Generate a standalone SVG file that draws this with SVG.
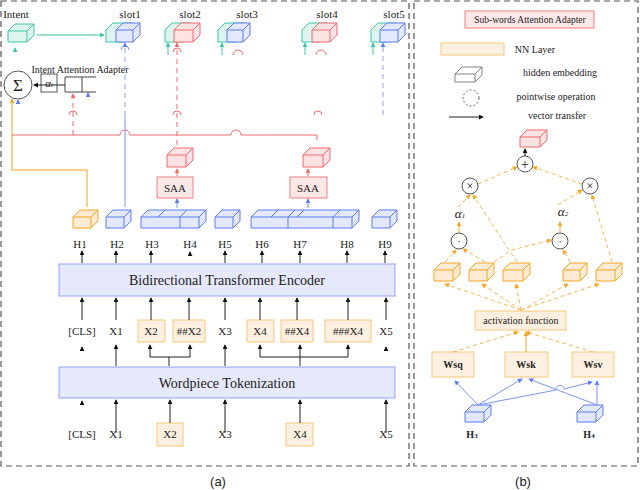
<svg xmlns="http://www.w3.org/2000/svg" width="640" height="490" viewBox="0 0 640 490">
<defs>
<marker id="ak" viewBox="0 0 6 6" refX="5" refY="3" markerWidth="5" markerHeight="5" orient="auto"><path d="M0,0L6,3L0,6z" fill="#111"/></marker>
<marker id="ao" viewBox="0 0 6 6" refX="5" refY="3" markerWidth="5" markerHeight="5" orient="auto"><path d="M0,0L6,3L0,6z" fill="#f5a623"/></marker>
<marker id="ab" viewBox="0 0 6 6" refX="5" refY="3" markerWidth="5" markerHeight="5" orient="auto"><path d="M0,0L6,3L0,6z" fill="#5b7cf0"/></marker>
<marker id="ap" viewBox="0 0 6 6" refX="5" refY="3" markerWidth="5" markerHeight="5" orient="auto"><path d="M0,0L6,3L0,6z" fill="#f06a6a"/></marker>
<marker id="at" viewBox="0 0 6 6" refX="5" refY="3" markerWidth="5" markerHeight="5" orient="auto"><path d="M0,0L6,3L0,6z" fill="#3cc7a5"/></marker>
</defs>
<style>
text{font-family:"Liberation Serif",serif;font-size:11px;fill:#222;text-anchor:middle}
.sans{font-family:"Liberation Sans",sans-serif;font-size:13px}
.frame{fill:none;stroke:#555;stroke-width:1.2;stroke-dasharray:6,4}
.cb{fill:#e3e8fd;stroke:#5b7cf0;stroke-width:1}
.co{fill:#fdebd3;stroke:#f5a623;stroke-width:1}
.cp{fill:#fde3e3;stroke:#f06a6a;stroke-width:1}
.ct{fill:#ddf5ee;stroke:#3cc7a5;stroke-width:1}
.bar{fill:#e6e9fb;stroke:#8fa3f5;stroke-width:1}
.nn{fill:#fdf0e0;stroke:#f7c77a;stroke-width:1}
.saa{fill:#fde8e8;stroke:#f08080;stroke-width:1}
.k{stroke:#222;stroke-width:1;fill:none;marker-end:url(#ak)}
.kl{stroke:#222;stroke-width:1;fill:none}
.o{stroke:#f5a623;stroke-width:1;fill:none;marker-end:url(#ao)}
.od{stroke:#f7b64d;stroke-width:1;fill:none;stroke-dasharray:4,3;marker-end:url(#ao)}
.b{stroke:#7d95f3;stroke-width:1;fill:none}
.ba{stroke:#7d95f3;stroke-width:1;fill:none;marker-end:url(#ab)}
.bd{stroke:#8fa3f5;stroke-width:1;fill:none;stroke-dasharray:5,4;marker-end:url(#ab)}
.p{stroke:#f06a6a;stroke-width:1;fill:none}
.pa{stroke:#f06a6a;stroke-width:1;fill:none;marker-end:url(#ap)}
.pd{stroke:#f06a6a;stroke-width:1;fill:none;stroke-dasharray:5,4;marker-end:url(#ap)}
.t{stroke:#3cc7a5;stroke-width:1;fill:none;marker-end:url(#at)}
.circ{fill:#fff;stroke:#555;stroke-width:1}
.ln{fill:none}
</style>
<rect class="frame" x="1" y="1" width="408" height="465"/>
<rect class="frame" x="414" y="1" width="224" height="465"/>
<text class="sans" x="218" y="486">(a)</text>
<text class="sans" x="523" y="486">(b)</text>

<g id="top-embeddings">
<text x="16" y="18">Intent</text>
<path class="ct" d="M8,31 l7,-7 h19 v11 l-7,7 h-19 z"/><path class="ct ln" d="M8,31 h19 l7,-7 M27,31 v11"/>
<text x="130" y="18">slot1</text>
<path class="ct" d="M106,30 l7,-7 h19 v12 l-7,7 h-19 z"/>
<path class="cb" d="M116,30 l7,-7 h17 v12 l-7,7 h-17 z"/><path class="cb ln" d="M116,30 h17 l7,-7 M133,30 v12"/>
<text x="190" y="18">slot2</text>
<path class="ct" d="M165,30 l7,-7 h19 v12 l-7,7 h-19 z"/>
<path class="cp" d="M174,30 l7,-7 h19 v12 l-7,7 h-19 z"/><path class="cp ln" d="M174,30 h19 l7,-7 M193,30 v12"/>
<text x="247" y="18">slot3</text>
<path class="ct" d="M218,30 l7,-7 h19 v12 l-7,7 h-19 z"/>
<path class="cb" d="M227,30 l7,-7 h16 v12 l-7,7 h-16 z"/><path class="cb ln" d="M227,30 h16 l7,-7 M243,30 v12"/>
<text x="327" y="18">slot4</text>
<path class="ct" d="M302,30 l7,-7 h19 v12 l-7,7 h-19 z"/>
<path class="cp" d="M312,30 l7,-7 h18 v12 l-7,7 h-18 z"/><path class="cp ln" d="M312,30 h18 l7,-7 M330,30 v12"/>
<text x="394" y="18">slot5</text>
<path class="ct" d="M371,30 l7,-7 h19 v12 l-7,7 h-19 z"/>
<path class="cb" d="M380,30 l7,-7 h18 v12 l-7,7 h-18 z"/><path class="cb ln" d="M380,30 h18 l7,-7 M398,30 v12"/>
</g>

<g id="intent-adapter">
<text x="80" y="73" style="font-size:10px">Intent Attention Adapter</text>
<circle class="circ" cx="18" cy="85" r="14"/>
<text x="18" y="91" style="font-size:17px">Σ</text>
<rect x="41" y="74" width="16" height="18" fill="#fff" stroke="#555"/>
<text x="49" y="87" style="font-style:italic">α<tspan style="font-size:7px">i</tspan></text>
<path d="M96,77 h-31 v15 h31 M82,77 v15" fill="#fff" stroke="#444"/>
</g>

<g id="saa1"><rect class="saa" x="157" y="177" width="36" height="21"/><text x="175" y="192">SAA</text></g>
<g id="saa2"><rect class="saa" x="290" y="177" width="37" height="21"/><text x="308" y="192">SAA</text></g>
<g id="saa-out">
<path class="cp" d="M167,155 l7,-7 h19 v12 l-7,7 h-19 z"/><path class="cp ln" d="M167,155 h19 l7,-7 M186,155 v12"/>
<path class="cp" d="M303,155 l7,-7 h20 v12 l-7,7 h-20 z"/><path class="cp ln" d="M303,155 h20 l7,-7 M323,155 v12"/>
</g>

<g id="hidden">
<path class="co" d="M73,217 l7,-7 h18 v11 l-7,7 h-18 z"/><path class="co ln" d="M73,217 h18 l7,-7 M91,217 v11"/>
<path class="cb" d="M106,217 l7,-7 h18 v11 l-7,7 h-18 z"/><path class="cb ln" d="M106,217 h18 l7,-7 M124,217 v11"/>
<path class="cb" d="M141,217 l7,-7 h58 v11 l-7,7 h-58 z"/><path class="cb ln" d="M141,217 h58 l7,-7 M199,217 v11 M158,217 l7,-7 M180,217 l7,-7 M180,217 v11"/>
<path class="cb" d="M215,217 l7,-7 h18 v11 l-7,7 h-18 z"/><path class="cb ln" d="M215,217 h18 l7,-7 M233,217 v11"/>
<path class="cb" d="M251,217 l7,-7 h101 v11 l-7,7 h-101 z"/><path class="cb ln" d="M251,217 h101 l7,-7 M352,217 v11 M271,217 l7,-7 M288,217 l7,-7 M288,217 v11 M297,217 l7,-7 M333,217 l7,-7 M333,217 v11"/>
<path class="cb" d="M372,217 l7,-7 h18 v11 l-7,7 h-18 z"/><path class="cb ln" d="M372,217 h18 l7,-7 M390,217 v11"/>
<text x="80" y="248">H1</text><text x="117" y="248">H2</text><text x="152" y="248">H3</text><text x="190" y="248">H4</text><text x="225" y="248">H5</text><text x="262" y="248">H6</text><text x="300" y="248">H7</text><text x="347" y="248">H8</text><text x="385" y="248">H9</text>
</g>

<g id="encoder"><rect class="bar" x="59" y="264" width="336" height="32"/><text x="227" y="285" style="font-size:14px">Bidirectional Transformer Encoder</text></g>
<g id="tokens-mid">
<text x="82" y="335">[CLS]</text><text x="116" y="335">X1</text>
<rect class="nn" x="138" y="320" width="27" height="22"/><text x="151" y="335">X2</text>
<rect class="nn" x="173" y="320" width="32" height="22"/><text x="189" y="335">##X2</text>
<text x="225" y="335">X3</text>
<rect class="nn" x="247" y="320" width="27" height="22"/><text x="260" y="335">X4</text>
<rect class="nn" x="281" y="320" width="32" height="22"/><text x="297" y="335">##X4</text>
<rect class="nn" x="325" y="320" width="46" height="22"/><text x="348" y="335">###X4</text>
<text x="386" y="335">X5</text>
</g>
<g id="wordpiece"><rect class="bar" x="59" y="367" width="336" height="31"/><text x="227" y="388" style="font-size:14px">Wordpiece Tokenization</text></g>
<g id="tokens-in">
<text x="82" y="438">[CLS]</text><text x="116" y="438">X1</text>
<rect class="nn" x="157" y="423" width="26" height="23"/><text x="170" y="438">X2</text>
<text x="225" y="438">X3</text>
<rect class="nn" x="286" y="423" width="27" height="23"/><text x="300" y="438">X4</text>
<text x="386" y="438">X5</text>
</g>

<g id="legend">
<rect class="saa" x="465" y="11" width="129" height="17"/><text x="530" y="23" style="font-size:9.5px">Sub-words Attention Adapter</text>
<rect class="nn" x="441" y="43" width="63" height="12"/><text x="535" y="53" style="font-size:10px">NN Layer</text>
<path d="M455,74 l7,-7 h20 v8 l-7,7 h-20 z" fill="#ffffff" stroke="#666" stroke-width="0.8"/><path d="M455,74 h20 l7,-7 M475,74 v8" fill="none" stroke="#666" stroke-width="0.8"/>
<text x="560" y="76" style="font-size:10px">hidden embedding</text>
<circle cx="471" cy="98" r="8" fill="none" stroke="#666" stroke-dasharray="2,2"/><text x="556" y="100" style="font-size:10px">pointwise operation</text>
<path class="k" d="M449,117 h34"/><text x="557" y="119" style="font-size:10px">vector transfer</text>
</g>

<g id="saa-detail">
<path class="cp" d="M520,137 l7,-7 h20 v10 l-7,7 h-20 z"/><path class="cp ln" d="M520,137 h20 l7,-7 M540,137 v10"/>
<circle class="circ" cx="525" cy="164" r="8"/><text x="525" y="169" style="font-size:14px">+</text>
<circle class="circ" cx="470" cy="186" r="8"/><text x="470" y="190" style="font-size:12px">×</text>
<circle class="circ" cx="590" cy="186" r="8"/><text x="590" y="190" style="font-size:12px">×</text>
<text x="460" y="218" style="font-size:13px;font-style:italic">α<tspan style="font-size:7px">1</tspan></text>
<text x="563" y="216" style="font-size:13px;font-style:italic">α<tspan style="font-size:7px">2</tspan></text>
<circle class="circ" cx="459" cy="241" r="8"/><text x="459" y="245">·</text>
<circle class="circ" cx="560" cy="241" r="8"/><text x="560" y="245">·</text>
<path class="co" d="M434,270 l7,-7 h19 v11 l-7,7 h-19 z"/><path class="co ln" d="M434,270 h19 l7,-7 M453,270 v11"/>
<path class="co" d="M469,270 l7,-7 h18 v11 l-7,7 h-18 z"/><path class="co ln" d="M469,270 h18 l7,-7 M487,270 v11"/>
<path class="co" d="M503,270 l7,-7 h20 v11 l-7,7 h-20 z"/><path class="co ln" d="M503,270 h20 l7,-7 M523,270 v11"/>
<path class="co" d="M563,270 l7,-7 h17 v11 l-7,7 h-17 z"/><path class="co ln" d="M563,270 h17 l7,-7 M580,270 v11"/>
<path class="co" d="M596,270 l7,-7 h19 v11 l-7,7 h-19 z"/><path class="co ln" d="M596,270 h19 l7,-7 M615,270 v11"/>
<rect class="nn" x="475" y="311" width="91" height="19"/><text x="521" y="324" style="font-size:10px">activation function</text>
<rect class="nn" x="432" y="352" width="42" height="25"/><text x="453" y="368" style="font-size:10px;font-weight:bold">Wsq</text>
<rect class="nn" x="505" y="352" width="43" height="25"/><text x="526" y="368" style="font-size:10px;font-weight:bold">Wsk</text>
<rect class="nn" x="572" y="352" width="42" height="25"/><text x="593" y="368" style="font-size:10px;font-weight:bold">Wsv</text>
<path class="cb" d="M465,412 l7,-7 h19 v10 l-7,7 h-19 z"/><path class="cb ln" d="M465,412 h19 l7,-7 M484,412 v10"/>
<path class="cb" d="M577,412 l7,-7 h19 v10 l-7,7 h-19 z"/><path class="cb ln" d="M577,412 h19 l7,-7 M596,412 v10"/>
<text x="472" y="438" style="font-size:10px;font-weight:bold">H<tspan style="font-size:7px">3</tspan></text>
<text x="589" y="438" style="font-size:10px;font-weight:bold">H<tspan style="font-size:7px">4</tspan></text>
</g>

<g id="connectors">
<path class="t" d="M37,35 H104"/>
<path class="t" d="M15,52 v-4"/>
<path class="t" d="M168,55 V43"/><path class="t" d="M222,55 V43"/><path class="t" d="M305,55 V43"/><path class="t" d="M373,55 V43"/>
<path class="p" d="M233,55 a5,5 0 0 1 10,0 M316,55 a5,5 0 0 1 10,0"/>
<path class="k" d="M65,85 H34"/>
<path class="o" d="M87,207 V170 H12 V99"/>
<path class="ba" d="M18,103 v-3"/>
<path class="p" d="M12,135 H120 a5,5 0 0 1 10,0 H231 a5,5 0 0 1 10,0 H317 V140"/>
<path class="pd" d="M73,135 V94"/>
<path class="p" d="M69,115 a4,4 0 0 1 8,0 M173,115 a4,4 0 0 1 8,0 M314,115 a4,4 0 0 1 8,0"/>
<path class="pd" d="M177,145 V43"/>
<path class="p" d="M173,52 a4,4 0 0 1 8,0"/>
<path class="b" d="M121,50 a4,4 0 0 1 8,0"/>
<path class="b" d="M125,207 V116"/>
<path class="bd" d="M125,116 V43"/>
<path class="ba" d="M88,96 V93"/>
<path class="bd" d="M383,115 V43"/>
<path class="pa" d="M177,176 V169"/><path class="pa" d="M308,176 V169"/>
<path class="ba" d="M177,208 V199"/><path class="ba" d="M308,208 V199"/>
<path class="k" d="M82,263 V251"/><path class="k" d="M116,263 V251"/><path class="k" d="M151,263 V251"/><path class="k" d="M190,255 v-3"/><path class="k" d="M225,263 V251"/><path class="k" d="M262,263 V251"/><path class="k" d="M300,263 V251"/><path class="k" d="M347,263 V251"/><path class="k" d="M385,263 V251"/>
<path class="k" d="M82,320 V298"/><path class="k" d="M116,320 V298"/><path class="k" d="M151,320 V298"/><path class="k" d="M189,320 V298"/><path class="k" d="M225,320 V298"/><path class="k" d="M260,320 V298"/><path class="k" d="M297,320 V298"/><path class="k" d="M348,320 V298"/><path class="k" d="M386,320 V298"/>
<path class="kl" d="M169,366 V357 M150,357 H190 M260,357 H348"/>
<path class="k" d="M116,366 V345"/><path class="k" d="M150,357 V345"/><path class="k" d="M190,357 V345"/><path class="k" d="M225,366 V345"/><path class="k" d="M260,357 V345"/><path class="k" d="M300,366 V345"/><path class="k" d="M348,357 V345"/><path class="k" d="M82,350 v-3"/><path class="k" d="M386,350 v-3"/>
<path class="k" d="M116,433 V400"/><path class="k" d="M170,423 V400"/><path class="k" d="M225,433 V400"/><path class="k" d="M300,423 V400"/><path class="k" d="M386,433 V400"/><path class="k" d="M82,404 v-3"/>
<path class="k" d="M525,156 V149"/>
<path class="od" d="M478,184 L517,167"/><path class="od" d="M582,184 L533,167"/>
<path class="od" d="M458,207 L470,195"/><path class="od" d="M558,205 L582,190"/>
<path class="o" d="M459,233 V222"/><path class="o" d="M560,233 V222"/>
<path class="od" d="M445,262 L456,250"/><path class="od" d="M485,262 L463,249"/><path class="od" d="M517,262 L473,195"/><path class="od" d="M494,262 L512,250 L551,240"/><path class="od" d="M570,262 L563,250"/><path class="od" d="M612,262 L592,195"/>
<path class="od" d="M521,310 L445,284"/><path class="od" d="M521,310 L482,284"/><path class="od" d="M521,310 L516,284"/><path class="od" d="M521,310 L568,284"/><path class="od" d="M521,310 L599,284"/>
<path class="od" d="M453,352 L518,332"/><path class="od" d="M593,352 L526,332"/>
<path class="o" d="M526,352 V332"/>
<path class="ba" d="M478,405 L455,381"/><path class="ba" d="M478,405 L522,379"/><path class="ba" d="M478,405 L556,390 a4,4 0 0 1 8,-1 L592,382"/><path class="ba" d="M597,405 L529,379"/><path class="ba" d="M597,405 V381"/>
</g>
</svg>
